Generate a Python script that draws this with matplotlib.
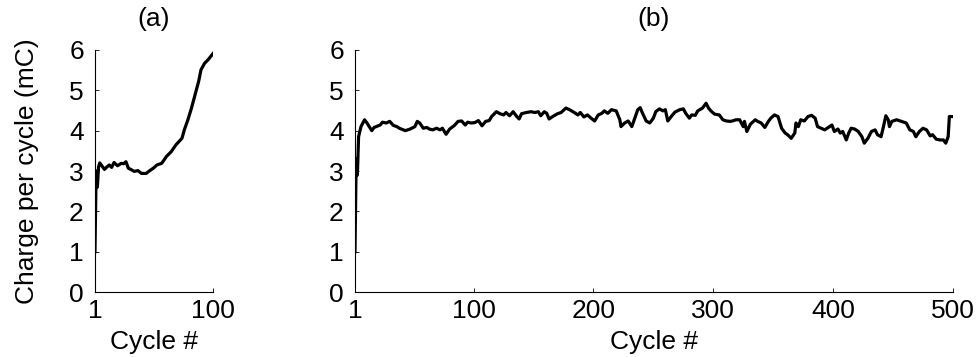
import matplotlib
matplotlib.use("Agg")
import matplotlib.pyplot as plt

plt.rcParams['font.family'] = ['Liberation Sans', 'DejaVu Sans']

# ------- panel (a): first 100 cycles -------
a_cycle = [1, 2, 3, 4, 5, 7, 9, 11, 13, 15, 17, 20, 23, 25, 27, 29, 31, 34, 37,
           40, 44, 47, 50, 53, 57, 61, 65, 69, 74, 76, 79, 82, 85, 88, 90, 93, 96, 100]
a_charge = [1.0, 3.0, 2.6, 3.1, 3.2, 3.12, 3.04, 3.1, 3.15, 3.09, 3.21, 3.13, 3.19,
            3.18, 3.23, 3.07, 3.04, 2.99, 3.01, 2.94, 2.94, 3.01, 3.07, 3.15, 3.19,
            3.36, 3.48, 3.65, 3.81, 4.02, 4.27, 4.56, 4.89, 5.22, 5.51, 5.67, 5.76, 5.91]

# ------- panel (b): 500 cycles -------
b_cycle = [1, 2, 3, 4, 6, 9, 11, 15, 17, 22, 24, 27, 30, 33, 36, 38, 43, 47, 51, 53,
           55, 58, 61, 63, 66, 69, 72, 74, 77, 80, 84, 87, 90, 93, 95, 98, 101, 104,
           107, 110, 113, 115, 119, 122, 125, 127, 130, 133, 136, 138, 140, 144, 148,
           151, 154, 156, 159, 161, 163, 166, 170, 173, 177, 180, 184, 187, 189, 192,
           195, 198, 201, 204, 207, 209, 212, 215, 219, 222, 223, 226, 229, 232, 234,
           237, 239, 241, 244, 247, 250, 252, 255, 258, 260, 262, 266, 268, 272, 275,
           277, 280, 282, 285, 287, 291, 294, 296, 298, 301, 305, 308, 311, 314, 316,
           319, 322, 325, 326, 328, 331, 335, 337, 340, 343, 346, 348, 351, 354, 357,
           360, 362, 365, 368, 369, 371, 373, 376, 379, 382, 385, 387, 390, 393, 396,
           399, 401, 404, 406, 408, 411, 413, 415, 418, 421, 424, 426, 429, 432, 435,
           437, 440, 442, 444, 446, 447, 449, 453, 457, 461, 464, 467, 469, 472, 475,
           478, 481, 483, 486, 489, 492, 494, 496, 497, 500]
b_charge = [1.0, 3.3, 2.9, 3.85, 4.10, 4.27, 4.19, 4.0, 4.08, 4.14, 4.21, 4.19, 4.23,
            4.13, 4.10, 4.06, 4.0, 4.04, 4.10, 4.23, 4.19, 4.06, 4.08, 4.04, 4.02,
            4.06, 4.02, 4.06, 3.91, 4.04, 4.13, 4.23, 4.24, 4.14, 4.21, 4.19, 4.20,
            4.25, 4.12, 4.23, 4.25, 4.35, 4.47, 4.42, 4.39, 4.45, 4.37, 4.47, 4.35,
            4.29, 4.42, 4.45, 4.47, 4.45, 4.47, 4.37, 4.47, 4.43, 4.29, 4.35, 4.42,
            4.45, 4.56, 4.52, 4.45, 4.39, 4.45, 4.34, 4.39, 4.31, 4.24, 4.39, 4.43,
            4.49, 4.43, 4.52, 4.49, 4.27, 4.10, 4.19, 4.24, 4.10, 4.27, 4.52, 4.57,
            4.43, 4.24, 4.19, 4.31, 4.47, 4.54, 4.49, 4.52, 4.24, 4.39, 4.46, 4.52,
            4.54, 4.43, 4.31, 4.39, 4.38, 4.49, 4.56, 4.68, 4.56, 4.49, 4.41, 4.39,
            4.27, 4.24, 4.23, 4.24, 4.27, 4.27, 4.10, 4.23, 3.98, 4.16, 4.27, 4.23,
            4.19, 4.08, 4.23, 4.31, 4.39, 4.35, 4.06, 3.94, 3.90, 3.81, 3.94, 4.19,
            4.10, 4.27, 4.24, 4.35, 4.38, 4.31, 4.10, 4.06, 4.02, 4.08, 4.14, 3.98,
            4.04, 3.94, 3.98, 3.77, 3.94, 4.06, 4.04, 3.98, 3.85, 3.69, 3.81, 3.98,
            4.02, 3.90, 3.85, 4.10, 4.37, 4.27, 4.10, 4.23, 4.27, 4.23, 4.19, 4.02,
            3.98, 3.85, 3.98, 4.06, 4.02, 3.87, 3.90, 3.79, 3.77, 3.77, 3.69, 3.85,
            4.35, 4.35]

y_ticks = [0, 1, 2, 3, 4, 5, 6]
a_xticks = [1, 100]
b_xticks = [1, 100, 200, 300, 400, 500]

fig = plt.figure(figsize=(9.79, 3.57), dpi=100)
ax_a = fig.add_axes([0.097, 0.182, 0.1205, 0.678])
ax_b = fig.add_axes([0.3626, 0.182, 0.6108, 0.678])

fs = 19
for ax, x, y, xt, xmax, title in [(ax_a, a_cycle, a_charge, a_xticks, 100, '(a)'),
                                  (ax_b, b_cycle, b_charge, b_xticks, 500, '(b)')]:
    ax.plot(x, y, color='black', lw=2.3)
    ax.set_xlim(1, xmax)
    ax.set_ylim(0, 6)
    ax.set_xticks(xt)
    ax.set_yticks(y_ticks)
    ax.spines['top'].set_visible(False)
    ax.spines['right'].set_visible(False)
    ax.spines['left'].set_linewidth(0.8)
    ax.spines['bottom'].set_linewidth(0.8)
    ax.tick_params(direction='in', length=3, width=0.6, labelsize=fs)
    ax.tick_params(axis='y', pad=8)
    ax.tick_params(axis='x', pad=5)
    ax.set_xlabel('Cycle #', fontsize=fs, labelpad=5)
    ax.set_title(title, fontsize=fs, pad=17)

ax_a.set_ylabel('Charge per cycle (mC)', fontsize=fs, labelpad=22)

fig.savefig('out.png', dpi=100)
